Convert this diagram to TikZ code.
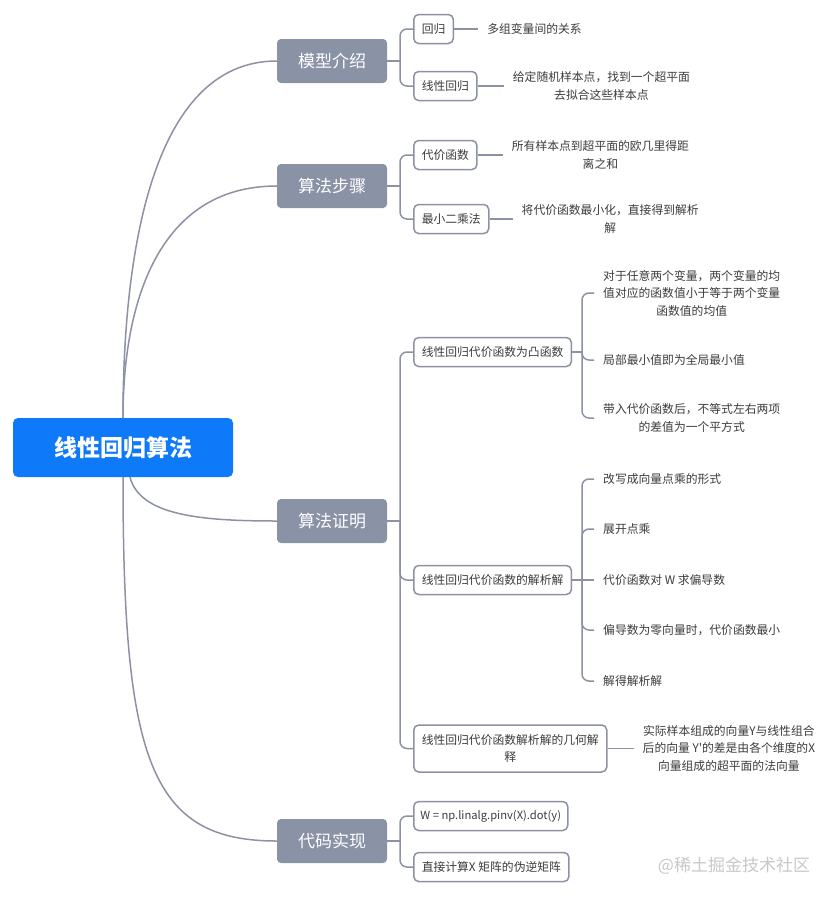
\documentclass[tikz,border=0pt]{standalone}
\usepackage{fontspec}
\setmainfont{Noto Sans CJK SC}
\usetikzlibrary{positioning}
\definecolor{rootblue}{RGB}{14,122,250}
\definecolor{catgray}{RGB}{138,146,166}
\definecolor{linegray}{RGB}{140,146,164}
\definecolor{textgray}{RGB}{60,60,60}
\definecolor{markgray}{RGB}{200,200,204}

\begin{document}
\begin{tikzpicture}[x=1pt,y=-1pt,
	root node/.style = {rectangle, rounded corners=5pt, fill=rootblue, text=white, minimum width=220pt, minimum height=59pt, font=\fontsize{23}{28}\selectfont\bfseries},
	cat node/.style = {rectangle, rounded corners=4pt, fill=catgray, text=white, minimum width=110pt, minimum height=44pt, font=\fontsize{17}{20}\selectfont},
	sub node/.style = {rectangle, rounded corners=5pt, draw=linegray, line width=1.5pt, fill=white, text=textgray, inner xsep=8pt, minimum height=29pt, align=center, font=\fontsize{11.8}{17}\selectfont},
	leaf node/.style = {text=textgray, inner xsep=9pt, inner ysep=0pt, align=center, font=\fontsize{11.8}{17.5}\selectfont},
	link/.style = {draw=linegray, line width=1.5pt},
	bracket/.style = {link, rounded corners=7pt}]
	
	\useasboundingbox[fill=white] (0,0) rectangle (838,900);
	
	% root and categories
	\node[root node] (root) at (123,447.5) {线性回归算法};
	\node[cat node] (c1) at (332,61) {模型介绍};
	\node[cat node] (c2) at (332,186) {算法步骤};
	\node[cat node] (c3) at (332,521) {算法证明};
	\node[cat node] (c4) at (332,841) {代码实现};
	
	\draw[link] (root.north) .. controls +(0,-158) and +(-127,0) .. (c1.west);
	\draw[link] (root.north) .. controls +(0,-118) and +(-117,0) .. (c2.west);
	\draw[link] ([xshift=7pt]root.south) .. controls +(10,38) and +(-77,0) .. (c3.west);
	\draw[link] (root.south) .. controls +(0,283) and +(-127,0) .. (c4.west);
	
	% 模型介绍
	\node[sub node,anchor=west] (s11) at (413,29) {回归};
	\node[sub node,anchor=west] (s12) at (413,86) {线性回归};
	\node[leaf node,right=24pt of s11] (l11) {多组变量间的关系};
	\node[leaf node,right=26pt of s12] (l12) {给定随机样本点，找到一个超平面\\去拟合这些样本点};
	
	% 算法步骤
	\node[sub node,anchor=west] (s21) at (413,155) {代价函数};
	\node[sub node,anchor=west] (s22) at (413,219) {最小二乘法};
	\node[leaf node,right=25pt of s21] (l21) {所有样本点到超平面的欧几里得距\\离之和};
	\node[leaf node,right=23pt of s22] (l22) {将代价函数最小化，直接得到解析\\解};
	
	% 算法证明
	\node[sub node,anchor=west,minimum width=155pt] (s31) at (413,352) {线性回归代价函数为凸函数};
	\node[sub node,anchor=west,minimum width=155pt] (s32) at (413,580) {线性回归代价函数的解析解};
	\node[sub node,anchor=west,minimum height=47pt] (s33) at (413,748.5) {线性回归代价函数解析解的几何解\\释};
	\node[leaf node,right=26pt of s33] (l33) {实际样本组成的向量Y与线性组合\\后的向量 Y\textquotesingle 的差是由各个维度的X\\向量组成的超平面的法向量};
	
	\node[leaf node,anchor=west] (a1) at (594,293) {对于任意两个变量，两个变量的均\\值对应的函数值小于等于两个变量\\函数值的均值};
	\node[leaf node,anchor=west] (a2) at (594,360) {局部最小值即为全局最小值};
	\node[leaf node,anchor=west] (a3) at (594,418) {带入代价函数后，不等式左右两项\\的差值为一个平方式};
	
	\node[leaf node,anchor=west] (b1) at (594,479) {改写成向量点乘的形式};
	\node[leaf node,anchor=west] (b2) at (594,529) {展开点乘};
	\node[leaf node,anchor=west] (b3) at (594,580) {代价函数对 W 求偏导数};
	\node[leaf node,anchor=west] (b4) at (594,630) {偏导数为零向量时，代价函数最小};
	\node[leaf node,anchor=west] (b5) at (594,681) {解得解析解};
	
	% 代码实现
	\node[sub node,anchor=west,minimum width=154pt,inner xsep=5pt,font=\fontsize{11.2}{17}\selectfont] (s41) at (413,816) {W = np.linalg.pinv(X).dot(y)};
	\node[sub node,anchor=west,minimum width=154pt] (s42) at (413,867) {直接计算X 矩阵的伪逆矩阵};
	
	% brackets
	\foreach \c/\y/\s in {c1/61/s11,c1/61/s12,c2/186/s21,c2/186/s22,c3/521/s31,c3/521/s32,c3/521/s33,c4/841/s41,c4/841/s42}
		\draw[bracket] (\s.west) -| (400,\y);
	\foreach \c in {c1,c2,c3,c4}
		\draw[link] (\c.east) -- (\c.east -| 400,0);
	
	\foreach \a in {a1,a2,a3}
		\draw[bracket] (\a.west) -| (582,352);
	\draw[link] (s31.east) -- (582,352);
	\foreach \b in {b1,b2,b4,b5}
		\draw[bracket] (\b.west) -| (582,580);
	\draw[link] (s32.east) -- (b3.west);
	
	\path[link]
	(s11) edge (l11)
	(s12) edge (l12)
	(s21) edge (l21)
	(s22) edge (l22)
	(s33) edge (l33);
	
	\node[text=markgray,font=\fontsize{17}{20}\selectfont] (mark) at (734,866) {@稀土掘金技术社区};
\end{tikzpicture}
\end{document}
